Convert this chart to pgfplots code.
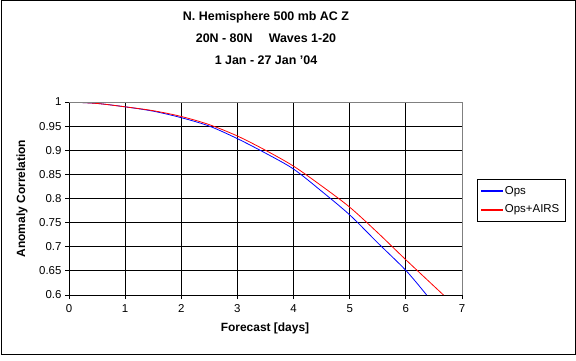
\documentclass[border=0pt]{standalone}
\usepackage{pgfplots}
\pgfplotsset{compat=1.18}
\usepackage{fontspec}
\setmainfont{Liberation Sans}
\begin{document}
\begin{tikzpicture}[x=1bp,y=1bp]
\useasboundingbox (0,0) rectangle (576,360);
\draw[black,line width=1bp] (1,6) rectangle (575,359);
\node[font=\fontsize{12.5}{14}\bfseries\selectfont] at (266,343) {N. Hemisphere 500 mb AC Z};
\node[font=\fontsize{12.5}{14}\bfseries\selectfont] at (266,322) {20N - 80N\hspace{1.3em}Waves 1-20};
\node[font=\fontsize{12.5}{14}\bfseries\selectfont] at (266,300) {1 Jan - 27 Jan '04};
\node[font=\fontsize{12}{14}\bfseries\selectfont,rotate=90] at (22,161.5) {Anomaly Correlation};
\node[font=\fontsize{12}{14}\bfseries\selectfont] at (265,32) {Forecast [days]};
\begin{axis}[
  at={(69bp,65bp)}, anchor=south west,
  scale only axis, width=393bp, height=193bp,
  xmin=0, xmax=7, ymin=0.6, ymax=1,
  xtick={0,1,...,7},
  ytick={0.6,0.65,...,1.0},
  yticklabels={0.6,0.65,0.7,0.75,0.8,0.85,0.9,0.95,1},
  axis x line*=bottom, axis y line*=left,
  axis line style={black,line width=0.8bp,-},
  grid=major, major grid style={black,line width=0.8bp},
  tick align=outside, major tick length=4bp,
  tick style={black,line width=0.8bp},
  /pgf/number format/assume math mode=true,
  tick label style={font=\fontsize{11.5}{13}\selectfont},
  xticklabel style={yshift=-2bp},
  legend style={at={(1.038,0.601)}, anchor=north west,
    font=\fontsize{11.5}{13}\selectfont, row sep=5bp, inner xsep=4bp, inner ysep=5bp},
  legend cell align=left,
]
\addplot[color=blue, line width=0.8bp, smooth,
  legend image code/.code={\fill[blue] (0bp,-0.5bp) rectangle (21bp,0.5bp);}] coordinates {
(0,1.0) (0.5,0.997) (1,0.990) (1.5,0.981) (2,0.9675) (2.5,0.950) (3,0.924) (3.5,0.894) (4,0.861) (4.5,0.815) (5,0.766) (5.5,0.708) (6,0.651) (6.37,0.6)
};
\addlegendentry{Ops}
\addplot[color=red, line width=0.8bp, smooth,
  legend image code/.code={\fill[red] (0bp,-0.5bp) rectangle (21bp,0.5bp);}] coordinates {
(0,1.0) (0.5,0.997) (1,0.990) (1.5,0.982) (2,0.970) (2.5,0.953) (3,0.9295) (3.5,0.900) (4,0.867) (4.5,0.826) (5,0.782) (5.5,0.729) (6,0.673) (6.67,0.6)
};
\addlegendentry{Ops+AIRS}
\end{axis}
\draw[gray,line width=0.8bp] (69,258) -- (462,258) -- (462,65);
\end{tikzpicture}
\end{document}
